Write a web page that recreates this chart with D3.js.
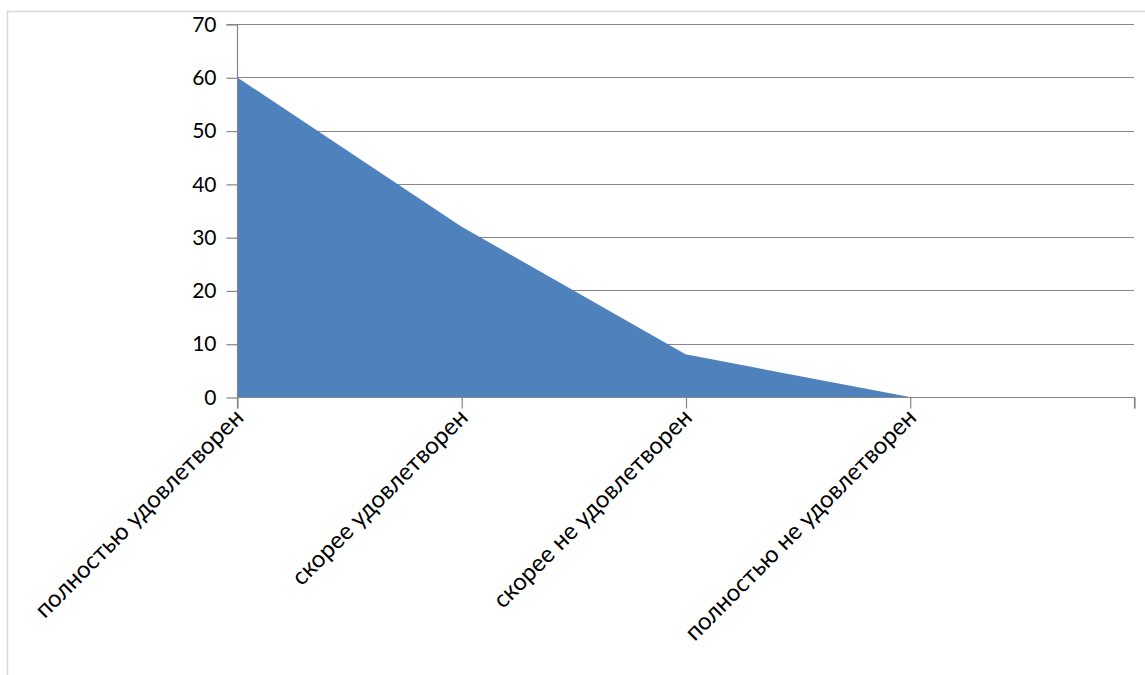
<!DOCTYPE html>
<html><head><meta charset="utf-8">
<script src="https://cdn.jsdelivr.net/npm/d3@7"></script>
<style>body{margin:0;background:#fff;} svg{display:block;}</style>
</head><body>
<svg id="c" width="1145" height="675"></svg>
<script>
const categories = ["полностью удовлетворен","скорее удовлетворен","скорее не удовлетворен","полностью не удовлетворен"];
const values = [60, 32, 8, 0];
const yTicks = [0,10,20,30,40,50,60,70];

(function(){
const svg = d3.select("#c");
const font = "Lato, 'Open Sans', sans-serif";
svg.append("rect").attr("x",7.5).attr("y",11.5).attr("width",1200).attr("height",800)
  .attr("fill","none").attr("stroke","#d9d9d9").attr("stroke-width",1.5);

const pL = 237, pR = 1134, pT = 24, pB = 397;
const x = d3.scaleLinear().domain([0, categories.length]).range([pL, pR]);
const y = d3.scaleLinear().domain([0,70]).range([pB, pT]);

svg.append("g").selectAll("line").data(yTicks.filter(d=>d>0)).join("line")
  .attr("x1",pL).attr("x2",pR).attr("y1",d=>Math.round(y(d))+0.5).attr("y2",d=>Math.round(y(d))+0.5)
  .attr("stroke","#868686").attr("stroke-width",1.2);

const area = d3.area().x((d,i)=>x(i)).y0(y(0)).y1(d=>y(d));
svg.append("path").datum(values).attr("d",area).attr("fill","#4F81BD");

const yAxis = d3.axisLeft(y).tickValues(yTicks).tickSize(11).tickPadding(10);
const gy = svg.append("g").attr("transform",`translate(${pL+0.5},0.5)`).call(yAxis);
gy.selectAll("path,line").attr("stroke","#868686").attr("stroke-width",1.2);
gy.select(".domain").attr("d",`M-11,${y(70)}H0V${y(0)}`);
gy.selectAll("text").attr("font-family",font).attr("font-size",21).attr("fill","#000");

const xAxis = d3.axisBottom(x).tickValues(d3.range(categories.length+1)).tickSize(11).tickFormat(()=>"");
const gx = svg.append("g").attr("transform",`translate(0.5,${pB+0.5})`).call(xAxis);
gx.selectAll("path,line").attr("stroke","#868686").attr("stroke-width",1.2);
gx.select(".domain").attr("d",`M${pL},11V0H${pR}V11`);

svg.append("g").selectAll("text").data(categories).join("text")
  .attr("transform",(d,i)=>`translate(${x(i)+8},${pB+22}) rotate(-45)`)
  .attr("text-anchor","end").attr("font-family",font).attr("font-size",24).attr("fill","#000")
  .text(d=>d);
})();
</script>
</body></html>
